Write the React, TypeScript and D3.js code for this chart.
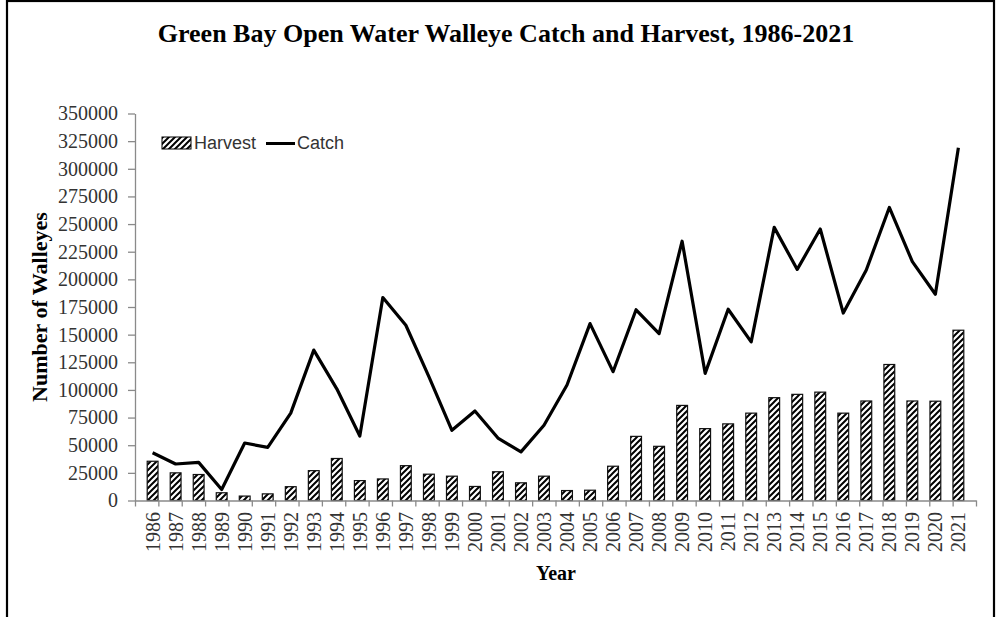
import React, { useEffect, useRef } from "react";
import * as d3 from "d3";

const years = [
  "1986", "1987", "1988", "1989", "1990", "1991", "1992", "1993", "1994",
  "1995", "1996", "1997", "1998", "1999", "2000", "2001", "2002", "2003",
  "2004", "2005", "2006", "2007", "2008", "2009", "2010", "2011", "2012",
  "2013", "2014", "2015", "2016", "2017", "2018", "2019", "2020", "2021",
];

const harvest = [
  35500, 25000, 23500, 7000, 4000, 6000, 12500, 27000, 38000,
  18000, 19500, 31500, 23800, 22000, 12700, 26000, 16000, 22000,
  9000, 9300, 31000, 58000, 49000, 86000, 65000, 69300, 79000,
  93000, 96000, 98000, 79000, 90000, 123000, 90000, 89800, 154000,
];

const catchCounts = [
  43200, 33000, 34500, 10000, 52000, 48000, 79000, 136000, 101000,
  58300, 183500, 158500, 112000, 63500, 81000, 56500, 44000, 68000,
  104500, 160000, 116500, 172500, 151000, 234500, 115000, 173000, 143500,
  247000, 209000, 245500, 169500, 208500, 265000, 216000, 186500, 319000,
];

const yTicks = [
  0, 25000, 50000, 75000, 100000, 125000, 150000, 175000,
  200000, 225000, 250000, 275000, 300000, 325000, 350000,
];

const W = 997;
const H = 617;
const left = 135;
const right = 976;
const bottom = 500.5;
const top = 113.5;
const serif = "'Liberation Serif', 'Times New Roman', serif";

export default function App() {
  const ref = useRef<SVGGElement>(null);

  useEffect(() => {
    const g = d3.select(ref.current);
    g.selectAll("*").remove();

    const x = d3.scaleBand().domain(years).range([left, right]).padding(0.53);
    const xEdge = d3.scaleLinear().domain([0, years.length]).range([left, right]);
    const y = d3.scaleLinear().domain([0, 350000]).range([bottom, top]);

    // y axis
    const ya = g
      .append("g")
      .attr("transform", `translate(${left},0)`)
      .call(
        d3
          .axisLeft(y)
          .tickValues(yTicks)
          .tickSize(7)
          .tickSizeOuter(0)
          .tickPadding(10)
          .tickFormat((d) => String(d))
      );
    ya.select(".domain").attr("stroke", "#8a8a8a").attr("stroke-width", 1.3);
    ya.selectAll(".tick line").attr("stroke", "#8a8a8a").attr("stroke-width", 1.3);
    ya.selectAll(".tick text")
      .attr("font-family", serif)
      .attr("font-size", 20)
      .attr("fill", "#333");

    // bars
    g.append("g")
      .selectAll("rect")
      .data(harvest)
      .join("rect")
      .attr("x", (_, i) => x(years[i])!)
      .attr("y", (d) => y(d))
      .attr("width", x.bandwidth())
      .attr("height", (d) => bottom - y(d))
      .attr("fill", "url(#hatch)")
      .attr("stroke", "#111")
      .attr("stroke-width", 1.2);

    // x axis with ticks at category edges
    const xa = g
      .append("g")
      .attr("transform", `translate(0,${bottom})`)
      .call(
        d3
          .axisBottom(xEdge)
          .tickValues(d3.range(years.length + 1))
          .tickSize(6)
          .tickSizeOuter(0)
          .tickFormat(() => "")
      );
    xa.select(".domain").attr("stroke", "#8a8a8a").attr("stroke-width", 1.3);
    xa.selectAll(".tick line").attr("stroke", "#8a8a8a").attr("stroke-width", 1.3);

    g.append("g")
      .selectAll("text")
      .data(years)
      .join("text")
      .attr("transform", (d) => `translate(${x(d)! + x.bandwidth() / 2},512) rotate(-90)`)
      .attr("text-anchor", "end")
      .attr("dy", "0.35em")
      .attr("font-family", serif)
      .attr("font-size", 20)
      .attr("fill", "#333")
      .text((d) => d);

    // catch line
    const line = d3
      .line<number>()
      .x((_, i) => x(years[i])! + x.bandwidth() / 2)
      .y((d) => y(d));

    g.append("path")
      .datum(catchCounts)
      .attr("d", line)
      .attr("fill", "none")
      .attr("stroke", "#000")
      .attr("stroke-width", 3.2)
      .attr("stroke-linejoin", "round");
  }, []);

  return (
    <svg
      width={W}
      height={H}
      style={{ position: "absolute", left: 0, top: 0, background: "#fff" }}
    >
      <defs>
        <pattern id="hatch" patternUnits="userSpaceOnUse" width={6} height={6}>
          <rect width={6} height={6} fill="#fff" />
          <path
            d="M-1.5,1.5 L1.5,-1.5 M0,6 L6,0 M4.5,7.5 L7.5,4.5"
            stroke="#000"
            strokeWidth={2}
          />
        </pattern>
      </defs>
      <rect x={7} y={1} width={987} height={660} fill="none" stroke="#000" strokeWidth={2.2} />
      <text
        x={506}
        y={42}
        textAnchor="middle"
        fontFamily={serif}
        fontWeight="bold"
        fontSize={26}
      >
        Green Bay Open Water Walleye Catch and Harvest, 1986-2021
      </text>
      <text
        transform="translate(47,307) rotate(-90)"
        textAnchor="middle"
        fontFamily={serif}
        fontWeight="bold"
        fontSize={22}
      >
        Number of Walleyes
      </text>
      <text
        x={556}
        y={580}
        textAnchor="middle"
        fontFamily={serif}
        fontWeight="bold"
        fontSize={20}
      >
        Year
      </text>
      <g fontFamily="'Liberation Sans', Arial, sans-serif" fontSize={18} fill="#333">
        <rect x={162} y={137} width={29} height={12} fill="url(#hatch)" stroke="#000" strokeWidth={1} />
        <text x={194} y={143} dominantBaseline="central">Harvest</text>
        <line x1={266} x2={295} y1={143.5} y2={143.5} stroke="#000" strokeWidth={3} />
        <text x={297} y={143} dominantBaseline="central">Catch</text>
      </g>
      <g ref={ref} />
    </svg>
  );
}
